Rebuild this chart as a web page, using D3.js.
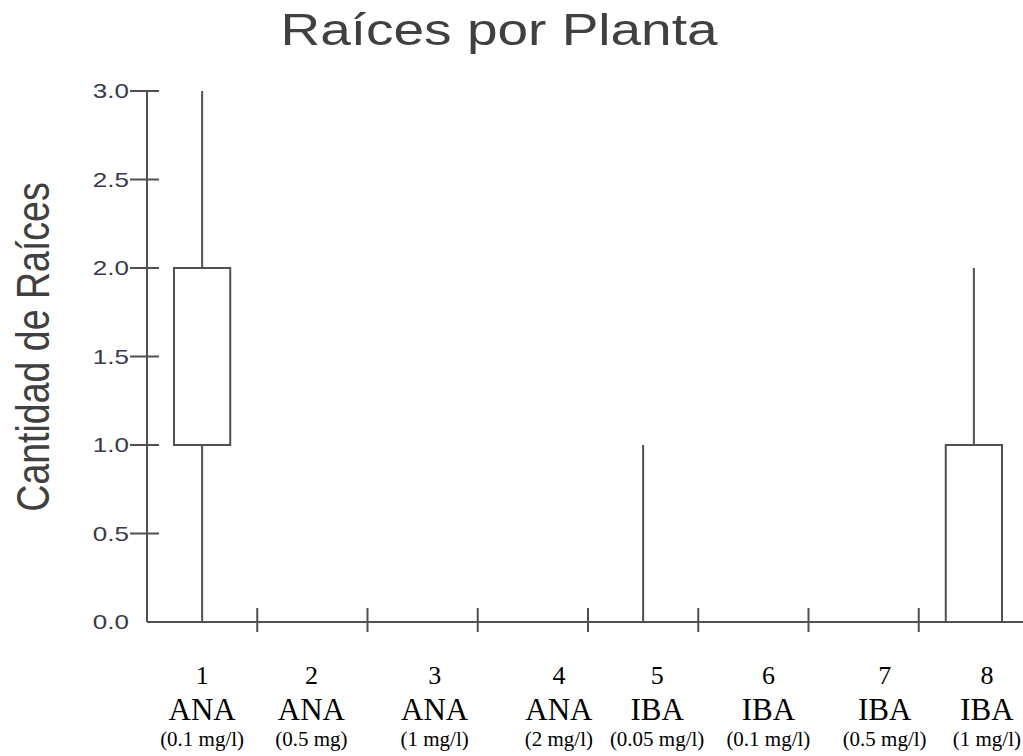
<!DOCTYPE html>
<html>
<head>
<meta charset="utf-8">
<script src="https://cdn.jsdelivr.net/npm/d3@7"></script>
<style>
  body { margin: 0; background: #fff; }
</style>
</head>
<body>
<div id="chart-area"></div>
<script>
// treatment number, hormone and dose under each box
const treatments = ["1", "2", "3", "4", "5", "6", "7", "8"];
const hormones = ["ANA", "ANA", "ANA", "ANA", "IBA", "IBA", "IBA", "IBA"];
const doses = ["(0.1 mg/l)", "(0.5 mg)", "(1 mg/l)", "(2 mg/l)", "(0.05 mg/l)", "(0.1 mg/l)", "(0.5 mg/l)", "(1 mg/l)"];

// box plot stats per treatment (roots per plant)
const mins = [0, 0, 0, 0, 0, 0, 0, 0];
const q1s = [1, 0, 0, 0, 0, 0, 0, 0];
const medians = [1, 0, 0, 0, 0, 0, 0, 0];
const q3s = [2, 0, 0, 0, 0, 0, 0, 1];
const maxs = [3, 0, 0, 0, 1, 0, 0, 2];

const yTicks = [0, 0.5, 1, 1.5, 2, 2.5, 3];

// labels under the axis are not quite centred in the original
const labelShift = [0, -1, 12, 26, 14, 15, 21, 13];

const W = 1023, H = 756;
const stretch = 1.25; // the original picture is stretched sideways
const lineColor = "#505050";

const svg = d3.select("#chart-area")
  .append("svg")
  .attr("width", W)
  .attr("height", H);

const x = d3.scaleBand()
  .domain(treatments)
  .range([147, 1029])
  .padding(0);

const y = d3.scaleLinear()
  .domain([0, 3])
  .range([622, 91]);

const data = treatments.map((t, i) => ({
  t: t, min: mins[i], q1: q1s[i], med: medians[i], q3: q3s[i], max: maxs[i]
}));

// title
svg.append("text")
  .attr("transform", `translate(499,45) scale(${stretch},1)`)
  .attr("text-anchor", "middle")
  .attr("font-family", "Liberation Sans, Arial, sans-serif")
  .attr("font-size", "44px")
  .attr("fill", "#404040")
  .text("Raíces por Planta");

// y label
svg.append("text")
  .attr("transform", `translate(49,347) scale(${stretch},1) rotate(-90)`)
  .attr("text-anchor", "middle")
  .attr("font-family", "Liberation Sans, Arial, sans-serif")
  .attr("font-size", "37.5px")
  .attr("fill", "#404040")
  .text("Cantidad de Raíces");

// y axis
svg.append("line")
  .attr("x1", 147).attr("x2", 147)
  .attr("y1", y(3)).attr("y2", y(0))
  .attr("stroke", lineColor).attr("stroke-width", 2);

svg.selectAll(".ytick").data(yTicks.filter(d => d > 0))
  .enter().append("line")
  .attr("class", "ytick")
  .attr("x1", 130).attr("x2", 159)
  .attr("y1", d => y(d)).attr("y2", d => y(d))
  .attr("stroke", lineColor).attr("stroke-width", 2);

svg.selectAll(".ylab").data(yTicks)
  .enter().append("text")
  .attr("class", "ylab")
  .attr("transform", d => `translate(129,${y(d) + 7}) scale(1.3,1)`)
  .attr("text-anchor", "end")
  .attr("font-family", "Liberation Sans, Arial, sans-serif")
  .attr("font-size", "20px")
  .attr("fill", "#3a3a4a")
  .text(d => d3.format(".1f")(d));

// x axis
svg.append("line")
  .attr("x1", 147).attr("x2", W)
  .attr("y1", y(0)).attr("y2", y(0))
  .attr("stroke", lineColor).attr("stroke-width", 2);

svg.selectAll(".xtick").data(treatments.slice(1))
  .enter().append("line")
  .attr("class", "xtick")
  .attr("x1", d => x(d)).attr("x2", d => x(d))
  .attr("y1", y(0) - 14).attr("y2", y(0) + 10)
  .attr("stroke", lineColor).attr("stroke-width", 2);

// boxes
const bw = x.bandwidth() * 0.51;
const cx = d => x(d.t) + x.bandwidth() / 2;

const g = svg.selectAll(".box").data(data).enter().append("g").attr("class", "box");

g.append("line")
  .attr("x1", cx).attr("x2", cx)
  .attr("y1", d => y(d.max)).attr("y2", d => y(d.q3))
  .attr("stroke", lineColor).attr("stroke-width", 2);

g.append("line")
  .attr("x1", cx).attr("x2", cx)
  .attr("y1", d => y(d.q1)).attr("y2", d => y(d.min))
  .attr("stroke", lineColor).attr("stroke-width", 2);

g.append("rect")
  .attr("x", d => cx(d) - bw / 2)
  .attr("y", d => y(d.q3))
  .attr("width", bw)
  .attr("height", d => y(d.q1) - y(d.q3))
  .attr("fill", "none")
  .attr("stroke", lineColor).attr("stroke-width", 2);

g.append("line")
  .attr("x1", d => cx(d) - bw / 2).attr("x2", d => cx(d) + bw / 2)
  .attr("y1", d => y(d.med)).attr("y2", d => y(d.med))
  .attr("stroke", lineColor).attr("stroke-width", 2);

// category labels
const lab = svg.selectAll(".xlab").data(data).enter().append("g")
  .attr("class", "xlab")
  .attr("transform", (d, i) => `translate(${cx(d) + labelShift[i]},0)`)
  .attr("font-family", "Liberation Serif, Times New Roman, serif")
  .attr("text-anchor", "middle")
  .attr("fill", "#000");

lab.append("text").attr("y", 684).attr("font-size", "26px").text(d => d.t);
lab.append("text").attr("y", 720).attr("font-size", "31px").text((d, i) => hormones[i]);
lab.append("text").attr("y", 746).attr("font-size", "21px").text((d, i) => doses[i]);
</script>
</body>
</html>
